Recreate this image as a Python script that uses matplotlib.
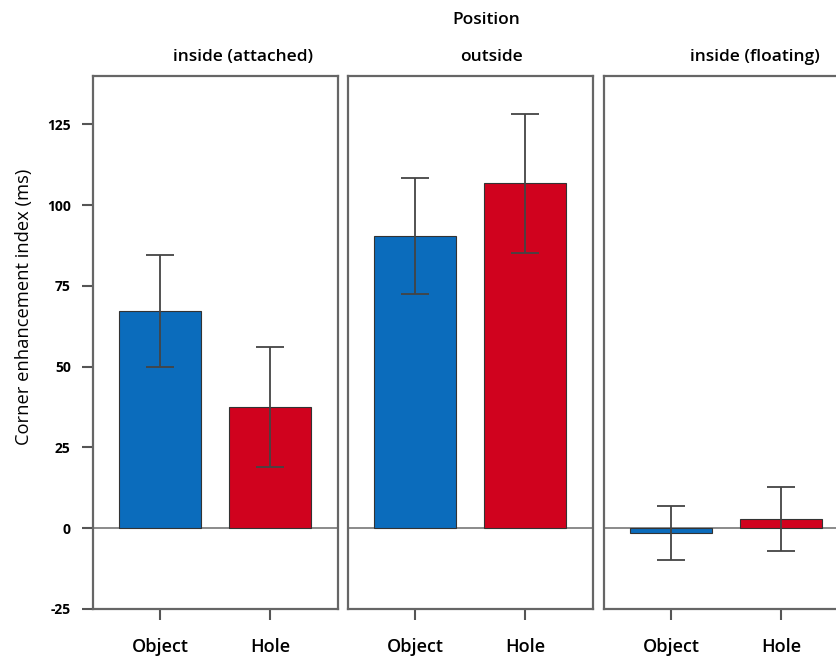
import matplotlib
matplotlib.use('Agg')
import matplotlib.pyplot as plt

# values
positions = ['inside (attached)', 'outside', 'inside (floating)']
shapes = ['Object', 'Hole']
object_mean = [67.2, 90.4, -1.5]
object_err = [17.3, 18.0, 8.3]
hole_mean = [37.5, 106.8, 2.8]
hole_err = [18.5, 21.5, 9.9]
yticks = [-25, 0, 25, 50, 75, 100, 125]

blue = '#0b6cbc'
red = '#d0021e'

plt.rcParams['font.family'] = ['Open Sans', 'DejaVu Sans']

W, H = 837, 657
fig = plt.figure(figsize=(W / 100, H / 100), dpi=100)

# panel boxes in pixels: left, right (top 76, bottom 609)
lefts = [93, 348, 604]
pw = 245
top, bottom = 76, 609
title_x = [243, 492, 755]

for i in range(3):
    ax = fig.add_axes([lefts[i] / W, 1 - bottom / H, pw / W, (bottom - top) / H])
    means = [object_mean[i], hole_mean[i]]
    errs = [object_err[i], hole_err[i]]
    ax.axhline(0, color='#777777', lw=1.2, zorder=1)
    ax.bar([0, 1], means, width=0.75, color=[blue, red], edgecolor='#333333',
           linewidth=0.8, zorder=2)
    ax.errorbar([0, 1], means, yerr=errs, fmt='none', ecolor='#444444',
                elinewidth=1.3, capsize=10, capthick=1.3, zorder=3)
    ax.set_xlim(-0.61, 1.62)
    ax.set_ylim(-25, 140)
    for s in ax.spines.values():
        s.set_color('#666666')
        s.set_linewidth(1.6)
    ax.set_xticks([0, 1])
    ax.set_xticklabels(shapes, fontsize=13, fontweight='semibold')
    ax.tick_params(axis='x', direction='out', length=8, width=1.5,
                   color='#555555', pad=13)
    if i == 0:
        ax.set_yticks(yticks)
        ax.set_yticklabels([str(t) for t in yticks], fontsize=10,
                           fontweight='bold')
        ax.tick_params(axis='y', direction='out', length=8, width=1.5,
                       color='#555555', pad=8)
        ax.set_ylabel('Corner enhancement index (ms)', fontsize=13.2)
        ax.yaxis.set_label_coords(-0.245, 0.567)
    else:
        ax.set_yticks([])
    fig.text(title_x[i] / W, 1 - 57 / H, positions[i], ha='center', va='center',
             fontsize=12.5, fontweight='semibold')

fig.text(486 / W, 1 - 20 / H, 'Position', ha='center', va='center',
         fontsize=12.5, fontweight='semibold')

fig.savefig('out.png', dpi=100)
